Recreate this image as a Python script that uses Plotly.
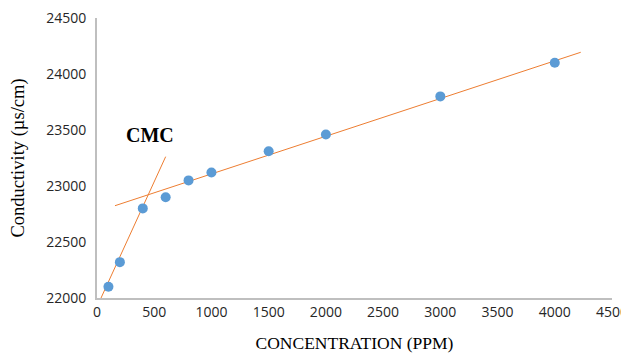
import plotly.graph_objects as go

# Measured data
concentration = [100, 200, 400, 600, 800, 1000, 1500, 2000, 3000, 4000]
conductivity = [22100, 22320, 22800, 22900, 23050, 23120, 23310, 23460, 23800, 24100]

# Trend lines (endpoints of the fitted lines, in data units)
trend_low_x = [18, 600]
trend_low_y = [21962, 23262]
trend_high_x = [157, 4227]
trend_high_y = [22824, 24194]

x_ticks = [0, 500, 1000, 1500, 2000, 2500, 3000, 3500, 4000, 4500]
y_ticks = [22000, 22500, 23000, 23500, 24000, 24500]
x_tick_labels = [str(v) for v in x_ticks]
y_tick_labels = [str(v) for v in y_ticks]

orange = "#ED7D31"
blue = "#5B9BD5"
axis_gray = "#BFBFBF"

fig = go.Figure()
fig.add_trace(go.Scatter(x=trend_low_x, y=trend_low_y, mode="lines",
                         line=dict(color=orange, width=1), hoverinfo="skip",
                         showlegend=False))
fig.add_trace(go.Scatter(x=trend_high_x, y=trend_high_y, mode="lines",
                         line=dict(color=orange, width=1), hoverinfo="skip",
                         showlegend=False))
fig.add_trace(go.Scatter(x=concentration, y=conductivity, mode="markers",
                         marker=dict(color=blue, size=10), showlegend=False,
                         cliponaxis=False))

fig.add_annotation(x=463, y=23455, xref="x", yref="y", text="<b>CMC</b>",
                   showarrow=False,
                   font=dict(family="Liberation Serif", size=20, color="black"))

tick_font = dict(family="Open Sans", size=14, color="#262626")
title_font = dict(family="Liberation Serif", size=17.5, color="black")

fig.update_xaxes(range=[0, 4500], tickvals=x_ticks, ticktext=x_tick_labels,
                 showgrid=False, zeroline=False, automargin=False,
                 ticklabeloverflow="allow",
                 showline=True, linecolor=axis_gray, linewidth=2, ticks="",
                 tickfont=tick_font,
                 title=dict(text="CONCENTRATION (PPM)", font=title_font, standoff=17))
fig.update_yaxes(range=[22000, 24500], tickvals=y_ticks, ticktext=y_tick_labels,
                 showgrid=False, zeroline=False, automargin=False,
                 ticklabeloverflow="allow",
                 showline=True, linecolor=axis_gray, linewidth=2, ticks="",
                 tickfont=tick_font, ticklabelstandoff=6,
                 title=dict(text="Conductivity (µs/cm)",
                            font=dict(family="Liberation Serif", size=18.5, color="black"),
                            standoff=18))

# The page body adds an 8 px offset, so the figure is sized to the remaining area.
fig.update_layout(width=621, height=346, margin=dict(l=89, r=17, t=10, b=56),
                  plot_bgcolor="white", paper_bgcolor="white")

fig.write_html("out.html")
